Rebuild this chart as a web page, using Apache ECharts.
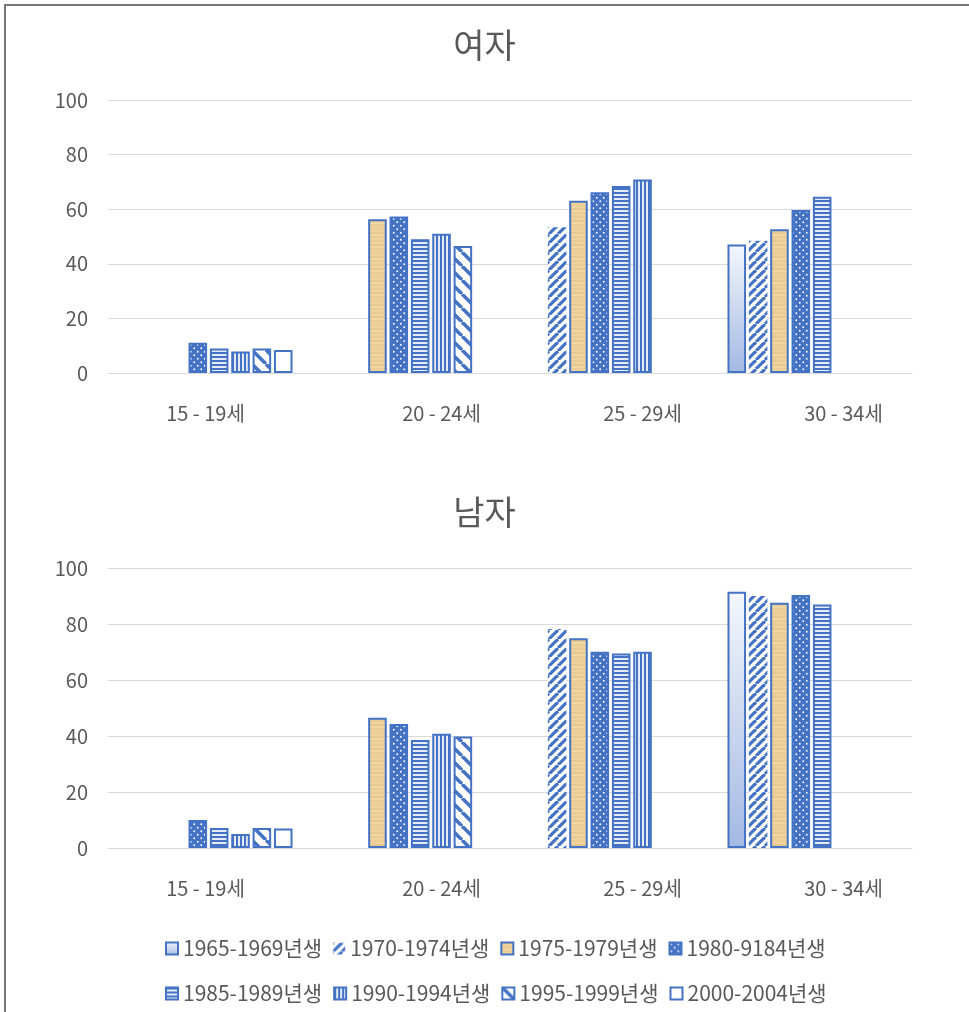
<!DOCTYPE html>
<html>
<head>
<meta charset="utf-8">
<script src="https://cdn.jsdelivr.net/npm/echarts@6/dist/echarts.min.js"></script>
<style>
  html, body { margin: 0; padding: 0; background: #fff; }
  #chart { width: 969px; height: 1012px; }
</style>
</head>
<body>
<div id="chart"></div>
<script>
// Age groups on the category axis
const categories = ['15 - 19세', '20 - 24세', '25 - 29세', '30 - 34세'];
// Birth cohorts (one series each)
const cohorts = ['1965-1969년생', '1970-1974년생', '1975-1979년생', '1980-9184년생',
                 '1985-1989년생', '1990-1994년생', '1995-1999년생', '2000-2004년생'];
const yTicks = [0, 20, 40, 60, 80, 100];

// 여자 (female) values by cohort, across the age groups
const female1965 = [null, null, null, 47.1];
const female1970 = [null, null, 53.4, 48.4];
const female1975 = [null, 56.3, 63.1, 52.7];
const female1980 = [11.1, 57.3, 66.2, 59.7];
const female1985 = [9.0, 49.0, 68.5, 64.6];
const female1990 = [7.9, 51.0, 70.9, null];
const female1995 = [9.0, 46.5, null, null];
const female2000 = [8.4, null, null, null];

// 남자 (male) values by cohort, across the age groups
const male1965 = [null, null, null, 91.5];
const male1970 = [null, null, 78.2, 90.0];
const male1975 = [null, 46.5, 74.9, 87.6];
const male1980 = [10.0, 44.3, 70.1, 90.4];
const male1985 = [7.1, 38.6, 69.5, 87.0];
const male1990 = [5.0, 40.8, 70.1, null];
const male1995 = [7.1, 39.8, null, null];
const male2000 = [7.0, null, null, null];

const femaleSets = [female1965, female1970, female1975, female1980, female1985, female1990, female1995, female2000];
const maleSets = [male1965, male1970, male1975, male1980, male1985, male1990, male1995, male2000];

const BLUE = '#4472C4';
const TEXT = '#595959';
const FONT = '"Noto Sans CJK KR", "Noto Sans", sans-serif';

// --- fill patterns -------------------------------------------------------
function tile(w, h, draw) {
  const c = document.createElement('canvas');
  c.width = w; c.height = h;
  const g = c.getContext('2d');
  g.fillStyle = '#fff';
  g.fillRect(0, 0, w, h);
  draw(g, w, h);
  return { image: c, repeat: 'repeat' };
}

// wide upward diagonal
const upDiag = tile(9, 9, (g, w) => {
  g.strokeStyle = BLUE; g.lineWidth = 3.2;
  for (let k = -1; k <= 1; k++) {
    g.beginPath(); g.moveTo(k * w, w); g.lineTo(k * w + w, 0); g.stroke();
  }
});
// papyrus-like tan
const tan = tile(16, 12, (g, w, h) => {
  const tones = ['#EBCD93', '#EED39E', '#E8C98C', '#F0D8A6', '#EACC95', '#EDD29C'];
  tones.forEach((t, i) => { g.fillStyle = t; g.fillRect(0, i * 2, w, 2); });
});
// blue with white dots
const dots = tile(7, 7, (g) => {
  g.fillStyle = BLUE; g.fillRect(0, 0, 7, 7);
  g.fillStyle = '#fff';
  [[1.75, 1.75], [5.25, 5.25]].forEach(([x, y]) => {
    g.beginPath(); g.arc(x, y, 0.95, 0, Math.PI * 2); g.fill();
  });
});
// horizontal lines
const hLines = tile(4, 4, (g) => {
  g.fillStyle = BLUE; g.fillRect(0, 0, 4, 2);
  g.fillStyle = '#E4EAF6'; g.fillRect(0, 2, 4, 2);
});
// vertical lines
const vLines = tile(4, 4, (g) => {
  g.fillStyle = BLUE; g.fillRect(0, 0, 2, 4);
  g.fillStyle = '#E4EAF6'; g.fillRect(2, 0, 2, 4);
});
// wide downward diagonal
const downDiag = tile(14, 14, (g, w) => {
  g.strokeStyle = BLUE; g.lineWidth = 3.5;
  for (let k = -1; k <= 1; k++) {
    g.beginPath(); g.moveTo(k * w, 0); g.lineTo(k * w + w, w); g.stroke();
  }
});
const gradient = {
  type: 'linear', x: 0, y: 0, x2: 0, y2: 1,
  colorStops: [{ offset: 0, color: '#F4F7FC' }, { offset: 1, color: '#A3B9E3' }]
};

const fills = [gradient, upDiag, tan, dots, hLines, vLines, downDiag, '#ffffff'];
const borders = [2, 0, 2, 2, 2, 2, 2, 2];

function seriesFor(sets, idx) {
  return sets.map((data, i) => ({
    name: cohorts[i],
    type: 'bar',
    xAxisIndex: idx,
    yAxisIndex: idx,
    data: data,
    barGap: '15%',
    barCategoryGap: '16.4%',
    itemStyle: { color: fills[i], borderColor: BLUE, borderWidth: borders[i] },
    emphasis: { disabled: true }
  }));
}

function catAxis(idx) {
  return {
    type: 'category', gridIndex: idx, data: categories,
    axisTick: { show: false },
    axisLine: { lineStyle: { color: '#D9D9D9', width: 1 } },
    axisLabel: {
      margin: 30,
      formatter: (v, i) => (i === 0 ? '{a|' + v + '}' : '{b|' + v + '}'),
      rich: {
        a: { fontSize: 20, color: TEXT, fontFamily: FONT, padding: [0, 6, 0, 0] },
        b: { fontSize: 20, color: TEXT, fontFamily: FONT, padding: [0, 0, 0, 64] }
      }
    }
  };
}
function valAxis(idx) {
  return {
    type: 'value', gridIndex: idx,
    min: yTicks[0], max: yTicks[yTicks.length - 1], interval: yTicks[1] - yTicks[0],
    axisLine: { show: false }, axisTick: { show: false },
    splitLine: { lineStyle: { color: '#D9D9D9', width: 1 } },
    axisLabel: { margin: 20, fontSize: 20, color: TEXT, fontFamily: FONT }
  };
}

const legendText = { fontSize: 21, color: TEXT, fontFamily: FONT };

const chart = echarts.init(document.getElementById('chart'), null, { renderer: 'canvas' });
chart.setOption({
  animation: false,
  backgroundColor: '#fff',
  textStyle: { fontFamily: FONT },
  title: [
    { text: '여자', left: 'center', top: 23, textStyle: { fontSize: 34, fontWeight: 'normal', color: TEXT, fontFamily: FONT } },
    { text: '남자', left: 'center', top: 490, textStyle: { fontSize: 34, fontWeight: 'normal', color: TEXT, fontFamily: FONT } }
  ],
  grid: [
    { left: 108, right: 57, top: 100, height: 273 },
    { left: 108, right: 57, top: 568, height: 280 }
  ],
  xAxis: [catAxis(0), catAxis(1)],
  yAxis: [valAxis(0), valAxis(1)],
  legend: [
    { data: cohorts.slice(0, 4), left: 160, top: 933, itemWidth: 12, itemHeight: 12, itemGap: 11, icon: 'rect', textStyle: legendText, selectedMode: false },
    { data: cohorts.slice(4), left: 160, top: 978, itemWidth: 12, itemHeight: 12, itemGap: 11, icon: 'rect', textStyle: legendText, selectedMode: false }
  ],
  graphic: [{
    type: 'rect', silent: true,
    shape: { x: 5, y: 5, width: 1000, height: 1050 },
    style: { fill: null, stroke: '#767676', lineWidth: 2 }
  }],
  series: seriesFor(femaleSets, 0).concat(seriesFor(maleSets, 1))
});
</script>
</body>
</html>
